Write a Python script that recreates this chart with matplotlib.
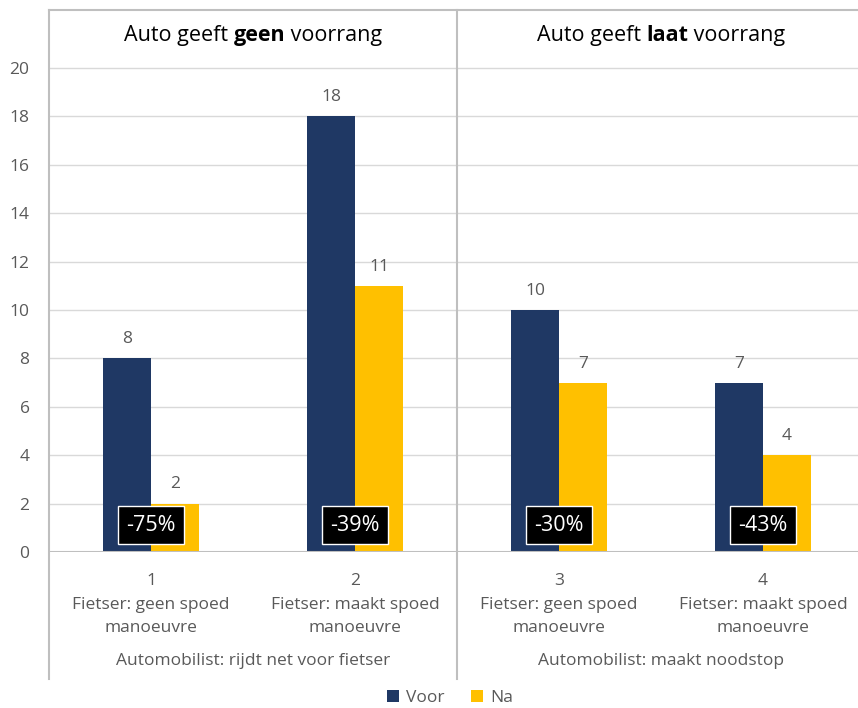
import matplotlib
matplotlib.use("Agg")
import matplotlib.pyplot as plt
from matplotlib.patches import Patch
from matplotlib.lines import Line2D
import numpy as np

plt.rcParams['font.family'] = ['Open Sans', 'DejaVu Sans']

categories = ["1\nFietser: geen spoed\nmanoeuvre", "2\nFietser: maakt spoed\nmanoeuvre",
              "3\nFietser: geen spoed\nmanoeuvre", "4\nFietser: maakt spoed\nmanoeuvre"]
voor = [8, 18, 10, 7]
na = [2, 11, 7, 4]
changes = ["-75%", "-39%", "-30%", "-43%"]
groups = ["Automobilist: rijdt net voor fietser", "Automobilist: maakt noodstop"]
headers = [("Auto geeft ", "geen", " voorrang"), ("Auto geeft ", "laat", " voorrang")]
series = ["Voor", "Na"]

C_VOOR = "#1F3864"
C_NA = "#FFC000"
GRAY = "#595959"

W, H = 858, 708
PX = 24.2  # pixels per unit on y
fig = plt.figure(figsize=(W / 100, H / 100), dpi=100)
ax = fig.add_axes([49 / W, 156 / H, 816 / W, 542 / H])
ymax = 22.4
ax.set_xlim(-0.5, 3.5)
ax.set_ylim(0, ymax)

x = np.arange(len(categories))
bw = 0.235
ax.bar(x - bw / 2, voor, bw, color=C_VOOR, zorder=3)
ax.bar(x + bw / 2, na, bw, color=C_NA, zorder=3)

for xi, v, n in zip(x, voor, na):
    ax.annotate(str(v), (xi - bw / 2, v), xytext=(0, 8), textcoords="offset points",
                ha="center", va="bottom", fontsize=12.5, color=GRAY)
    ax.annotate(str(n), (xi + bw / 2, n), xytext=(0, 8), textcoords="offset points",
                ha="center", va="bottom", fontsize=12.5, color=GRAY)

for xi, c in zip(x, changes):
    ax.text(xi, 1.1, c, ha="center", va="center", fontsize=15.5, color="white", zorder=5,
            bbox=dict(boxstyle="square,pad=0.4", facecolor="black", edgecolor="white", linewidth=1))

ax.set_yticks(np.arange(0, 21, 2))
ax.tick_params(axis="y", length=0, pad=14, labelsize=12.5, labelcolor=GRAY)
ax.set_xticks([])
for yv in np.arange(2, 21, 2):
    ax.axhline(yv, color="#D9D9D9", linewidth=1, zorder=1)
ax.axhline(0, color="#BFBFBF", linewidth=1.5, zorder=4)

for s in ["right", "bottom", "left"]:
    ax.spines[s].set_visible(False)
ax.spines["top"].set_color("#BFBFBF")
ax.spines["top"].set_linewidth(1.5)

# vertical dividers extend below axis
ybot = -(679 - 552) / PX
for xv in [-0.5, 1.5]:
    ax.add_line(Line2D([xv, xv], [ybot, ymax], color="#BFBFBF", linewidth=1.5, clip_on=False, zorder=2))

# category labels, one line at a time
baselines = [585, 609, 632]
for xi, c in zip(x, categories):
    for line, b in zip(c.split("\n"), baselines):
        ax.text(xi, -(b - 552) / PX, line, ha="center", va="baseline", fontsize=12.5, color=GRAY)
for gi, g in enumerate(groups):
    ax.text(0.5 + 2 * gi, -(665 - 552) / PX, g, ha="center", va="baseline", fontsize=12.5, color=GRAY)

# headers with bold word
fig.canvas.draw()
r = fig.canvas.get_renderer()
yh = 20 + (68 - 35) / PX
for gi, (a, b, c) in enumerate(headers):
    parts = []
    for txt, wt in [(a, "normal"), (b, "bold"), (c, "normal")]:
        t = ax.text(0, yh, txt, ha="left", va="center", fontsize=15.5, fontweight=wt, color="black")
        parts.append(t)
    widths = [p.get_window_extent(r).width for p in parts]
    total = sum(widths)
    cx_pix = ax.transData.transform((0.5 + 2 * gi, yh))[0]
    start = cx_pix - total / 2
    inv = ax.transData.inverted()
    for p, w in zip(parts, widths):
        p.set_x(inv.transform((start, 0))[0])
        start += w

handles = [Patch(facecolor=C_VOOR), Patch(facecolor=C_NA)]
fig.legend(handles, series, loc="center", bbox_to_anchor=(450 / W, 1 - 698 / H), ncol=2,
           frameon=False, fontsize=12.5, handlelength=0.7, handleheight=0.7, handletextpad=0.4,
           columnspacing=1.5, labelcolor=GRAY)

fig.savefig("out.png", dpi=100)
